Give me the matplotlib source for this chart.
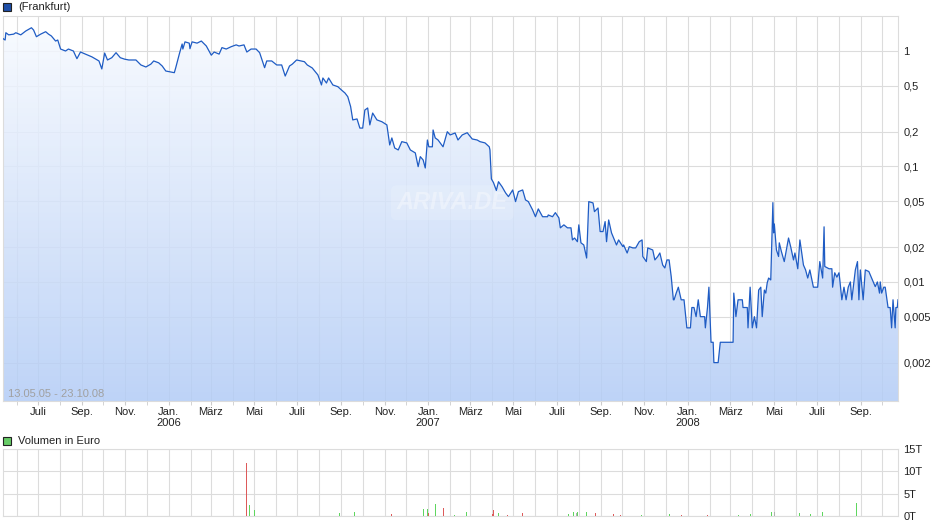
import matplotlib
matplotlib.use("Agg")
import matplotlib.pyplot as plt
import matplotlib.dates as mdates
from matplotlib.patches import Rectangle
import numpy as np
import pandas as pd

plt.rcParams['font.family'] = ['Liberation Sans', 'DejaVu Sans']

# price series (Frankfurt)
dates = [
    "2005-05-13", "2005-05-16", "2005-05-17", "2005-05-21", "2005-05-28", "2005-05-31", "2005-06-07", "2005-06-14",
    "2005-06-22", "2005-06-25", "2005-06-29", "2005-07-05", "2005-07-12", "2005-07-16", "2005-07-20", "2005-07-26",
    "2005-07-29", "2005-08-02", "2005-08-09", "2005-08-13", "2005-08-20", "2005-08-25", "2005-08-30", "2005-09-06",
    "2005-09-15", "2005-09-25", "2005-09-29", "2005-10-03", "2005-10-07", "2005-10-13", "2005-10-19", "2005-10-25",
    "2005-10-31", "2005-11-06", "2005-11-16", "2005-11-23", "2005-11-30", "2005-12-07", "2005-12-11", "2005-12-18",
    "2005-12-23", "2005-12-28",
    "2006-01-04", "2006-01-09", "2006-01-11", "2006-01-16", "2006-01-20", "2006-01-21", "2006-01-24", "2006-01-30",
    "2006-01-31", "2006-02-03", "2006-02-10", "2006-02-16", "2006-02-23", "2006-03-02", "2006-03-06", "2006-03-13",
    "2006-03-17", "2006-03-23", "2006-03-30", "2006-04-06", "2006-04-10", "2006-04-17", "2006-04-21", "2006-04-27",
    "2006-05-04", "2006-05-09", "2006-05-16", "2006-05-19", "2006-05-26", "2006-06-02", "2006-06-09", "2006-06-14",
    "2006-06-20", "2006-06-24", "2006-06-30", "2006-07-11", "2006-07-15", "2006-07-22", "2006-07-30", "2006-08-04",
    "2006-08-06", "2006-08-11", "2006-08-14", "2006-08-20", "2006-08-27", "2006-09-01", "2006-09-06", "2006-09-10",
    "2006-09-14", "2006-09-17", "2006-09-23", "2006-09-27", "2006-10-01", "2006-10-04", "2006-10-08", "2006-10-11",
    "2006-10-15", "2006-10-21", "2006-10-28", "2006-11-04", "2006-11-08", "2006-11-11", "2006-11-15", "2006-11-20",
    "2006-11-25", "2006-12-02", "2006-12-07", "2006-12-14", "2006-12-18", "2006-12-21", "2006-12-25", "2006-12-28",
    "2006-12-31",
    "2007-01-02", "2007-01-07", "2007-01-08", "2007-01-11", "2007-01-15", "2007-01-22", "2007-01-28", "2007-02-01",
    "2007-02-08", "2007-02-12", "2007-02-18", "2007-02-25", "2007-03-04", "2007-03-11", "2007-03-15", "2007-03-22",
    "2007-03-28", "2007-03-29", "2007-03-31", "2007-04-03", "2007-04-07", "2007-04-10", "2007-04-15", "2007-04-20",
    "2007-04-24", "2007-04-30", "2007-05-04", "2007-05-08", "2007-05-14", "2007-05-18", "2007-05-22", "2007-05-28",
    "2007-06-01", "2007-06-05", "2007-06-11", "2007-06-18", "2007-06-19", "2007-06-25", "2007-06-29", "2007-07-04",
    "2007-07-06", "2007-07-11", "2007-07-16", "2007-07-21", "2007-07-23", "2007-07-26", "2007-07-30", "2007-08-01",
    "2007-08-04", "2007-08-08", "2007-08-12", "2007-08-15", "2007-08-21", "2007-08-23", "2007-08-28", "2007-08-31",
    "2007-09-04", "2007-09-07", "2007-09-09", "2007-09-12", "2007-09-16", "2007-09-19", "2007-09-23", "2007-09-26",
    "2007-10-02", "2007-10-03", "2007-10-08", "2007-10-11", "2007-10-16", "2007-10-20", "2007-10-25", "2007-10-29",
    "2007-10-30", "2007-11-04", "2007-11-06", "2007-11-13", "2007-11-16", "2007-11-20", "2007-11-23", "2007-11-27",
    "2007-11-30", "2007-12-03", "2007-12-06", "2007-12-09", "2007-12-12", "2007-12-13", "2007-12-16", "2007-12-19",
    "2007-12-23", "2007-12-27", "2007-12-31",
    "2008-01-05", "2008-01-07", "2008-01-10", "2008-01-13", "2008-01-16", "2008-01-19", "2008-01-25", "2008-01-26",
    "2008-01-29", "2008-01-31", "2008-02-03", "2008-02-06", "2008-02-07", "2008-02-13", "2008-02-16", "2008-03-05",
    "2008-03-06", "2008-03-09", "2008-03-12", "2008-03-18", "2008-03-19", "2008-03-25", "2008-03-26", "2008-03-29",
    "2008-04-01", "2008-04-04", "2008-04-07", "2008-04-10", "2008-04-13", "2008-04-15", "2008-04-18", "2008-04-20",
    "2008-04-22", "2008-04-24", "2008-04-27", "2008-04-30", "2008-05-01", "2008-05-02", "2008-05-05", "2008-05-08",
    "2008-05-09", "2008-05-12", "2008-05-16", "2008-05-22", "2008-05-25", "2008-05-29", "2008-05-31", "2008-06-04",
    "2008-06-07", "2008-06-12", "2008-06-15", "2008-06-18", "2008-06-21", "2008-06-26", "2008-07-02", "2008-07-05",
    "2008-07-09", "2008-07-11", "2008-07-12", "2008-07-18", "2008-07-22", "2008-07-23", "2008-07-26", "2008-07-29",
    "2008-08-01", "2008-08-02", "2008-08-05", "2008-08-08", "2008-08-11", "2008-08-14", "2008-08-17", "2008-08-19",
    "2008-08-24", "2008-08-27", "2008-08-29", "2008-08-31", "2008-09-04", "2008-09-07", "2008-09-12", "2008-09-17",
    "2008-09-21", "2008-09-24", "2008-09-27", "2008-09-28", "2008-09-30", "2008-10-03", "2008-10-05", "2008-10-09",
    "2008-10-12", "2008-10-14", "2008-10-16", "2008-10-19", "2008-10-20", "2008-10-22", "2008-10-23",
]
prices = [
    1.28, 1.245, 1.44, 1.38, 1.40, 1.44, 1.38, 1.49,
    1.59, 1.52, 1.33, 1.40, 1.47, 1.40, 1.35, 1.22,
    1.245, 1.04, 1.00, 1.04, 1.00, 0.858, 0.98, 0.94,
    0.89, 0.82, 0.699, 0.96, 0.836, 0.875, 0.967, 0.875,
    0.85, 0.836, 0.836, 0.757, 0.727, 0.77, 0.82, 0.79,
    0.741, 0.671,
    0.658, 0.649, 0.717, 0.94, 1.15, 1.04, 1.20, 1.17,
    1.047, 1.20, 1.17, 1.22, 1.105, 0.92, 0.98, 0.94,
    1.07, 1.04, 1.09, 1.13, 1.105, 1.13, 0.98, 1.04,
    1.04, 0.967, 0.717, 0.82, 0.82, 0.757, 0.757, 0.607,
    0.741, 0.77, 0.836, 0.808, 0.757, 0.713, 0.62, 0.508,
    0.584, 0.528, 0.584, 0.508, 0.491, 0.46, 0.433, 0.402,
    0.33, 0.253, 0.258, 0.215, 0.215, 0.308, 0.321, 0.229,
    0.29, 0.253, 0.244, 0.229, 0.1535, 0.1766, 0.1445, 0.139,
    0.164, 0.16, 0.139, 0.131, 0.0996, 0.1216, 0.1138, 0.097,
    0.1695,
    0.148, 0.148, 0.207, 0.1766, 0.1695, 0.148, 0.2, 0.1875,
    0.195, 0.1695, 0.1875, 0.196, 0.173, 0.1695, 0.164, 0.16,
    0.148, 0.139, 0.078, 0.0724, 0.062, 0.0738, 0.0668, 0.059,
    0.0548, 0.0626, 0.0496, 0.0605, 0.0626, 0.0513, 0.0496, 0.042,
    0.0367, 0.0429, 0.0367, 0.0367, 0.038, 0.0367, 0.0398, 0.0358,
    0.0294, 0.0312, 0.0294, 0.0294, 0.0231, 0.024, 0.0223, 0.0312,
    0.0218, 0.0209, 0.0161, 0.0496, 0.0483, 0.0406, 0.0437, 0.0273,
    0.0273, 0.0333, 0.0223, 0.0344, 0.0266, 0.024, 0.0209, 0.0231,
    0.0202, 0.0209, 0.0178, 0.0202, 0.0197, 0.0197, 0.0223, 0.0231,
    0.0166, 0.015, 0.0197, 0.0189, 0.0155, 0.0166, 0.0178, 0.014,
    0.0132, 0.0155, 0.0155, 0.0111, 0.007, 0.007, 0.008, 0.009,
    0.007, 0.007, 0.004,
    0.004, 0.006, 0.006, 0.005, 0.007, 0.005, 0.005, 0.004,
    0.006, 0.009, 0.003, 0.003, 0.002, 0.002, 0.003, 0.003,
    0.008, 0.005, 0.007, 0.007, 0.006, 0.006, 0.004, 0.009,
    0.004, 0.005, 0.004, 0.0085, 0.009, 0.005, 0.0085, 0.008,
    0.0098, 0.0108, 0.0104, 0.0486, 0.0266, 0.0318, 0.0189, 0.0166,
    0.0218, 0.0183, 0.015, 0.024, 0.0202, 0.0155, 0.0178, 0.013,
    0.0231, 0.014, 0.0127, 0.0108, 0.0127, 0.009, 0.009, 0.015,
    0.0108, 0.030, 0.0136, 0.013, 0.013, 0.009, 0.012, 0.011,
    0.012, 0.0106, 0.007, 0.009, 0.007, 0.009, 0.010, 0.007,
    0.0127, 0.015, 0.007, 0.0127, 0.007, 0.0127, 0.0123, 0.0104,
    0.0091, 0.010, 0.008, 0.010, 0.008, 0.009, 0.009, 0.006,
    0.006, 0.004, 0.007, 0.004, 0.006, 0.006, 0.007,
]

# volume in Euro (thousands, "T")
vol_dates = [
    "2006-04-21", "2006-04-25", "2006-05-02", "2006-05-25", "2006-08-30", "2006-09-20", "2006-11-11", "2006-12-25",
    "2006-12-31", "2007-01-02", "2007-01-11", "2007-01-22", "2007-02-07", "2007-02-24", "2007-04-02", "2007-04-03",
    "2007-04-10", "2007-04-23", "2007-05-14", "2007-07-18", "2007-07-25", "2007-07-29", "2007-07-30", "2007-08-12",
    "2007-08-25", "2007-09-19", "2007-09-28", "2007-10-28", "2007-12-07", "2007-12-23", "2008-01-29", "2008-03-13",
    "2008-03-29", "2008-04-28", "2008-05-02", "2008-06-07", "2008-06-22", "2008-07-09", "2008-08-26",
]
volumes = [
    11.8, 2.4, 1.3, 0.6, 0.6, 0.8, 0.4, 1.5,
    1.5, 0.6, 2.6, 1.9, 0.15, 1.0, 0.4, 1.3,
    0.6, 0.15, 0.6, 0.4, 0.8, 0.7, 1.0, 1.0,
    0.6, 0.4, 0.15, 0.15, 0.4, 0.15, 0.15, 0.15,
    0.4, 0.8, 0.8, 0.6, 0.4, 0.8, 3.0,
]
vol_kind = [
    "r", "g", "g", "g", "g", "g", "r", "g",
    "g", "r", "g", "r", "g", "g", "r", "r",
    "g", "r", "r", "g", "g", "n", "g", "g",
    "r", "r", "r", "g", "g", "r", "r", "g",
    "g", "g", "n", "g", "g", "g", "g",
]

y_ticks = [1, 0.5, 0.2, 0.1, 0.05, 0.02, 0.01, 0.005, 0.002]
y_labels = ["1", "0,5", "0,2", "0,1", "0,05", "0,02", "0,01", "0,005", "0,002"]
vol_ticks = [0, 5, 10, 15]
vol_labels = ["0T", "5T", "10T", "15T"]
month_names = {1: "Jan.", 3: "März", 5: "Mai", 7: "Juli", 9: "Sep.", 11: "Nov."}

d = pd.to_datetime(dates)
vd = pd.to_datetime(vol_dates)
x0, x1 = pd.Timestamp("2005-05-13"), pd.Timestamp("2008-10-23")
ybot, ytop = 0.00093, 2.01

grid_c = "#dcdcdc"
line_c = "#1f5cc4"
kind_c = {"g": "#5fd65f", "r": "#dd5a5a", "n": "#b0b0b0"}

fig = plt.figure(figsize=(9.4, 5.26), dpi=100)
ax = fig.add_axes([3 / 940, 1 - 401 / 526, 895 / 940, 385 / 526])
ax2 = fig.add_axes([3 / 940, 1 - 516 / 526, 895 / 940, 67 / 526])


def month_fmt(x, pos=None):
    dt = mdates.num2date(x)
    s = month_names.get(dt.month, "")
    if dt.month == 1:
        s += "\n%d" % dt.year
    return s


# --- price panel ---
ax.set_yscale("log")
ax.set_xlim(x0, x1)
ax.set_ylim(ybot, ytop)
ax.set_axisbelow(True)
ax.xaxis.set_major_locator(mdates.MonthLocator(bymonth=[1, 3, 5, 7, 9, 11]))
ax.xaxis.set_minor_locator(mdates.MonthLocator())
ax.xaxis.set_major_formatter(plt.FuncFormatter(month_fmt))
ax.grid(True, which="both", axis="x", color=grid_c, lw=0.8)
ax.set_yticks(y_ticks)
ax.set_yticklabels(y_labels)
ax.yaxis.set_minor_locator(plt.NullLocator())
ax.grid(True, which="major", axis="y", color=grid_c, lw=0.8)
ax.yaxis.tick_right()
ax.tick_params(axis="y", length=0, pad=4, labelsize=8, colors="#222222")
ax.tick_params(axis="x", which="both", length=3, color="#cccccc", pad=1,
               labelsize=8, labelcolor="#222222")
for s in ax.spines.values():
    s.set_color(grid_c)
    s.set_linewidth(0.8)

fill = ax.fill_between(d, prices, ybot, facecolor="none", lw=0)
grad = np.linspace(0, 1, 256).reshape(-1, 1)
top_c = np.array([0.975, 0.985, 1.0])
bot_c = np.array([0.70, 0.80, 0.965])
img = top_c + (bot_c - top_c) * grad
im = ax.imshow(img[:, None, :].repeat(2, axis=1), extent=(0, 1, 0, 1), transform=ax.transAxes,
               aspect="auto", origin="upper", alpha=0.85, zorder=1, interpolation="bilinear")
im.set_clip_path(fill.get_paths()[0], transform=ax.transData)
ax.set_xlim(x0, x1)
ax.set_ylim(ybot, ytop)
ax.plot(d, prices, color=line_c, lw=0.9, zorder=3)

fig.text(8 / 940, 1 - 394 / 526, "13.05.05 - 23.10.08", color="#a0a0a0", fontsize=8, va="center")
# faint site watermark
ax.text(0.502, 0.515, "ARIVA.DE", transform=ax.transAxes, ha="center", va="center",
        fontsize=17, fontweight="bold", fontstyle="italic", color=(1, 1, 1, 0.35), zorder=2,
        bbox=dict(boxstyle="round,pad=0.25", fc=(1, 1, 1, 0.15), ec="none"))

# --- volume panel ---
ax2.set_xlim(x0, x1)
ax2.set_ylim(0, 15)
ax2.set_axisbelow(True)
ax2.xaxis.set_major_locator(mdates.MonthLocator())
ax2.xaxis.set_major_formatter(plt.NullFormatter())
ax2.grid(True, axis="both", color=grid_c, lw=0.8)
ax2.set_yticks(vol_ticks)
ax2.set_yticklabels(vol_labels)
ax2.yaxis.tick_right()
ax2.tick_params(axis="y", length=0, pad=4, labelsize=8, colors="#222222")
ax2.tick_params(axis="x", length=0)
for s in ax2.spines.values():
    s.set_color(grid_c)
    s.set_linewidth(0.8)
ax2.bar(vd, volumes, width=1.4, color=[kind_c[k] for k in vol_kind], lw=0, zorder=3)

# legend squares
fig.patches.append(Rectangle((3 / 940, 1 - 11 / 526), 8 / 940, 8 / 526, transform=fig.transFigure,
                             fc="#1f4fa8", ec="#222222", lw=0.8))
fig.text(18 / 940, 1 - 6.5 / 526, "(Frankfurt)", fontsize=8, va="center", color="#222222")
fig.patches.append(Rectangle((3 / 940, 1 - 445 / 526), 8 / 940, 8 / 526, transform=fig.transFigure,
                             fc="#66cc66", ec="#222222", lw=0.8))
fig.text(18 / 940, 1 - 440.5 / 526, "Volumen in Euro", fontsize=8, va="center", color="#222222")

fig.savefig("out.png", dpi=100)
